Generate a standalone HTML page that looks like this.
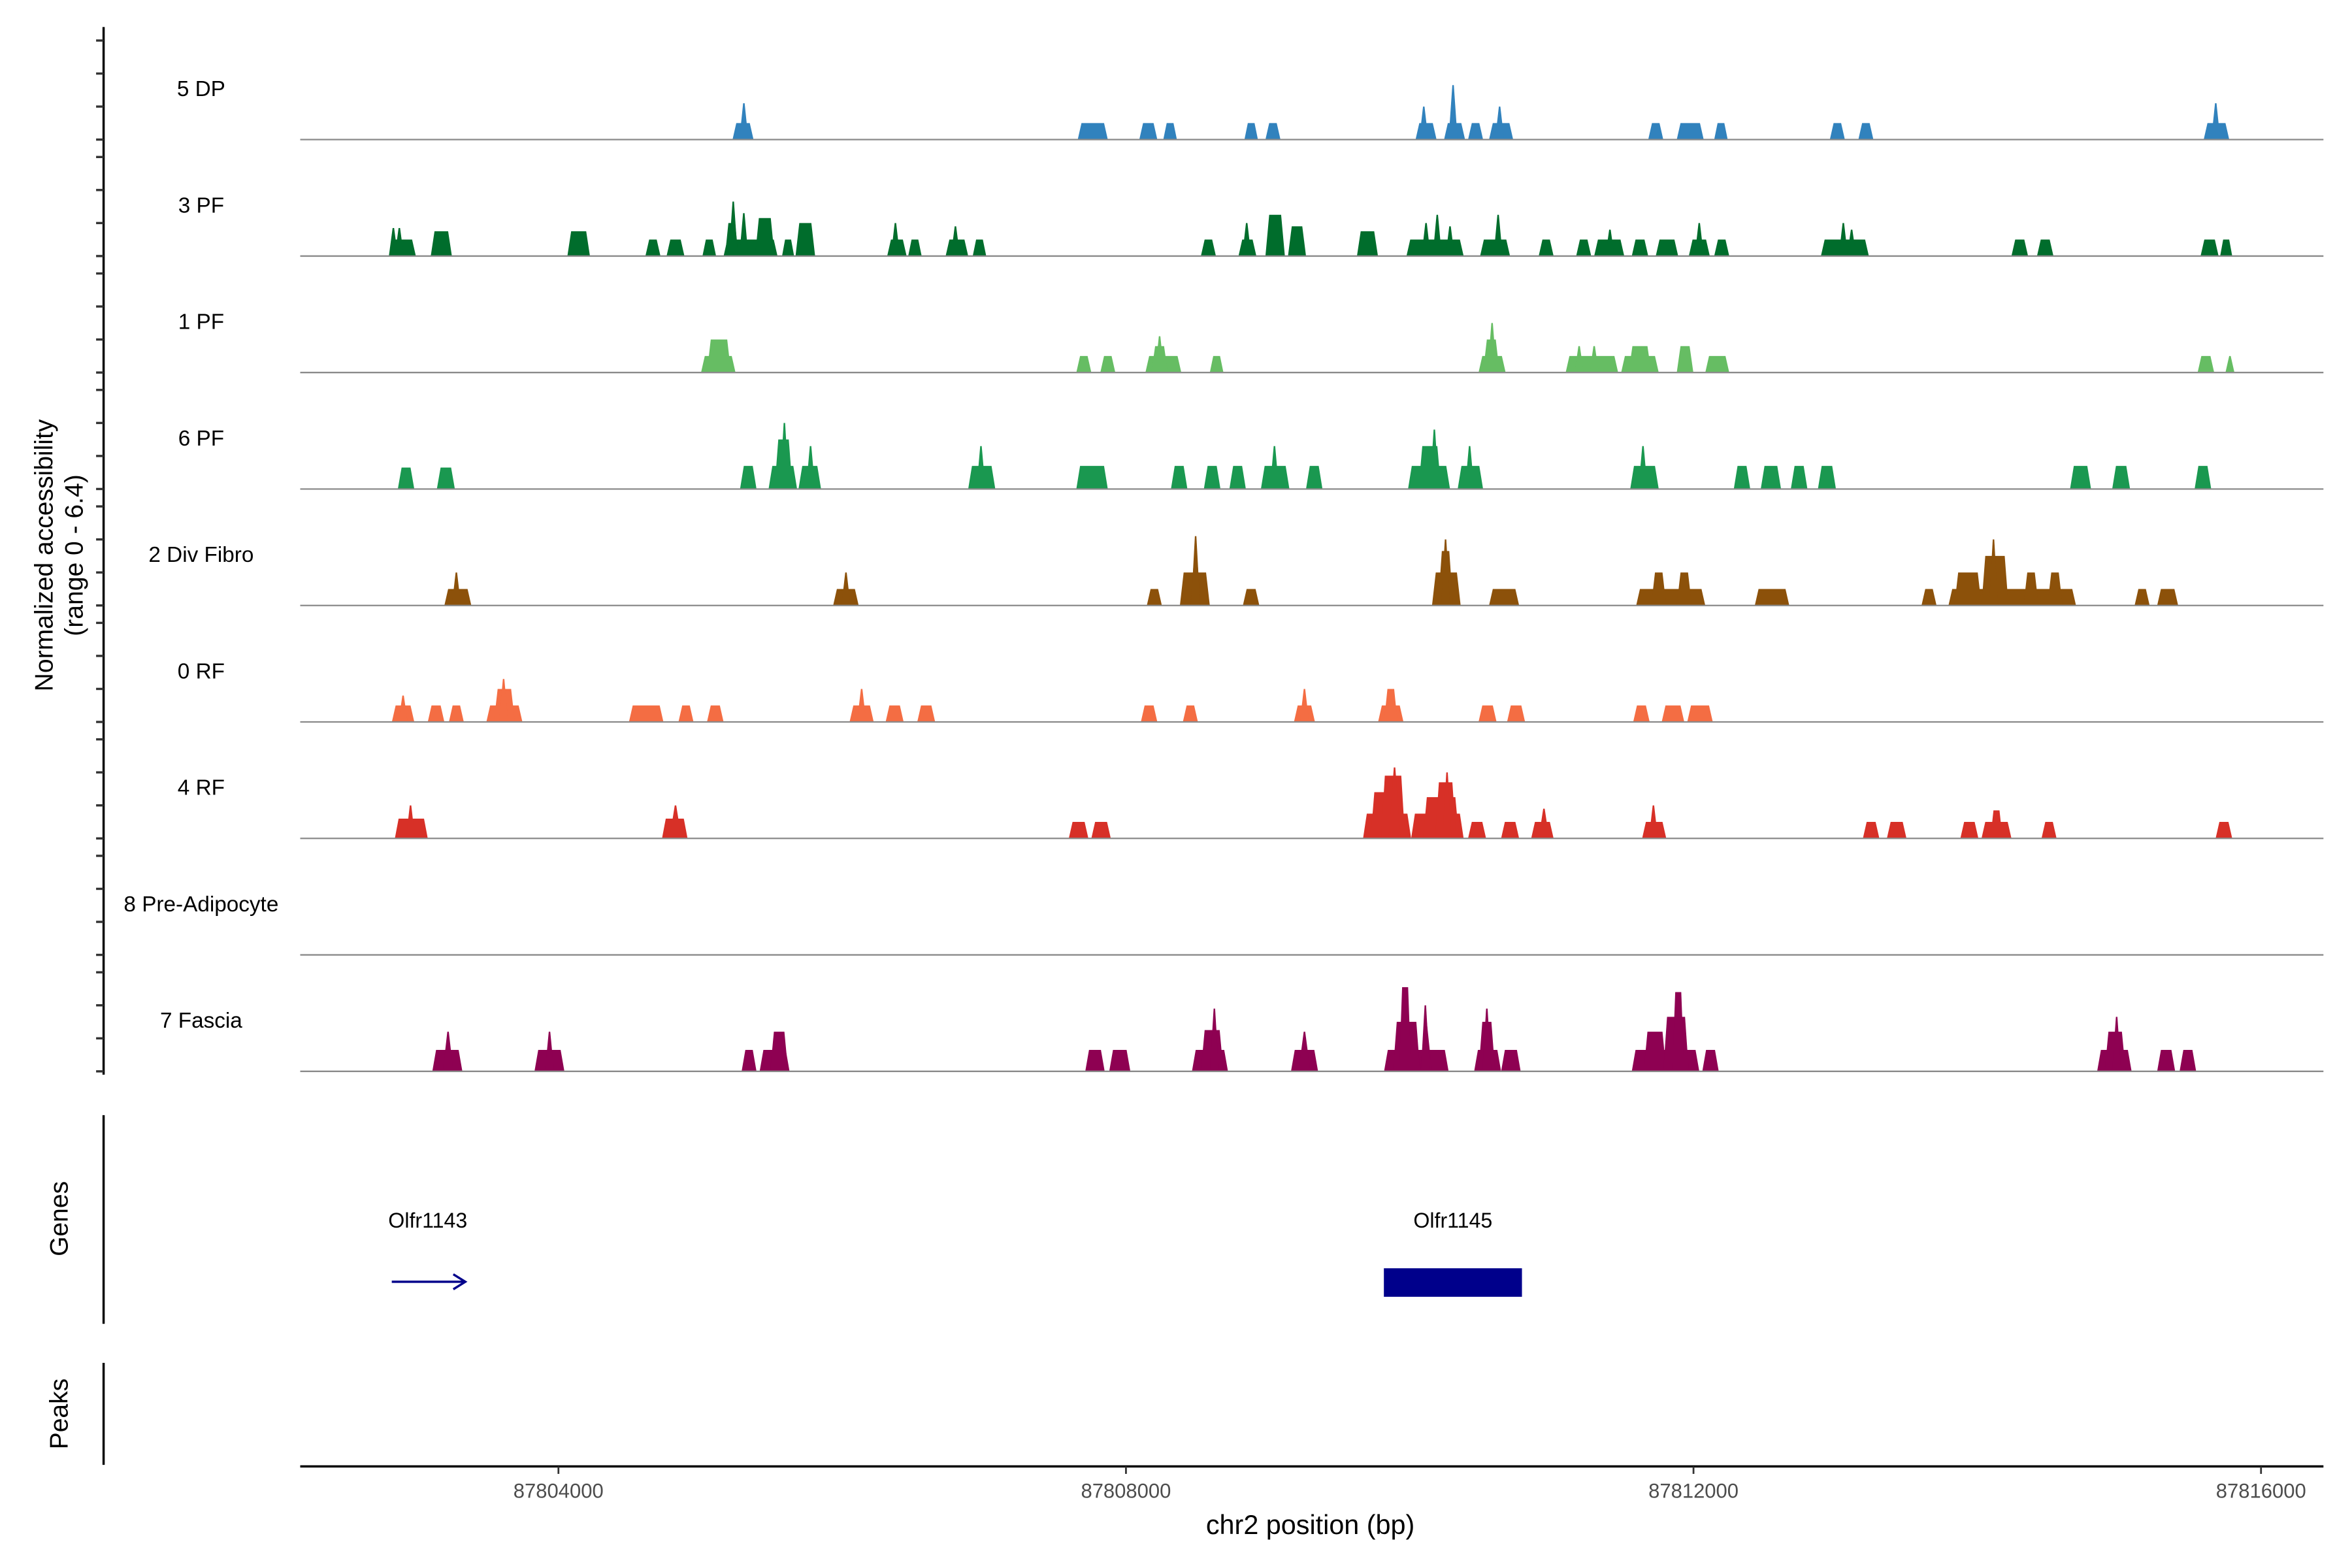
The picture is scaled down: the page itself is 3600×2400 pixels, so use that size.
<!DOCTYPE html>
<html><head><meta charset="utf-8">
<style>
html,body{margin:0;padding:0;background:#fff;}
svg{display:block;font-family:"Liberation Sans",Arial,sans-serif;}
</style></head>
<body>
<svg id="chart" width="3600" height="2400" viewBox="0 0 1567 1044.7" xmlns="http://www.w3.org/2000/svg">
<g id="tracks"></g>
<g id="yaxis"></g>
<text transform="translate(35,370) rotate(-90)" text-anchor="middle" font-size="17">Normalized accessibility</text>
<text transform="translate(55,370) rotate(-90)" text-anchor="middle" font-size="17">(range 0 - 6.4)</text>
<g>
<line x1="69" y1="743" x2="69" y2="882" stroke="#000" stroke-width="1.5"/>
<text transform="translate(45,812) rotate(-90)" text-anchor="middle" font-size="17">Genes</text>
<text x="285" y="818" text-anchor="middle" font-size="14">Olfr1143</text>
<line x1="261" y1="854" x2="309" y2="854" stroke="#00008b" stroke-width="1.5"/>
<path d="M302,849 L310,854 L302,859" fill="none" stroke="#00008b" stroke-width="1.5"/>
<text x="968" y="818" text-anchor="middle" font-size="14">Olfr1145</text>
<rect x="922" y="845" width="92" height="19" fill="#00008b"/>
</g>
<g>
<line x1="69" y1="908" x2="69" y2="976" stroke="#000" stroke-width="1.5"/>
<text transform="translate(45,942) rotate(-90)" text-anchor="middle" font-size="17">Peaks</text>
</g>
<g id="xaxis"></g>
<text x="873" y="1022" text-anchor="middle" font-size="18">chr2 position (bp)</text>
</svg>
<script>
const NS = "http://www.w3.org/2000/svg";
const trackNames = ["5 DP","3 PF","1 PF","6 PF","2 Div Fibro","0 RF","4 RF","8 Pre-Adipocyte","7 Fascia"];
const trackColors = ["#3182bd","#006d2c","#66bd63","#1a9850","#8c510a","#f46d43","#d73027","#f7f7f7","#8e0152"];
const xTicks = [87804000, 87808000, 87812000, 87816000];
const domain = [87802180, 87816440];
// peaks: [start bp, end bp, height (normalized)]
const peaks5DP = [[87805227,87805375,1],[87805291,87805323,2.2],[87807660,87807872,1],[87808094,87808221,1],[87808263,87808359,1],[87808835,87808930,1],[87808983,87809089,1],[87810041,87810189,1],[87810083,87810115,2],[87810242,87810390,1],[87810284,87810327,3.3],[87810411,87810517,1],[87810559,87810729,1],[87810612,87810655,2],[87811681,87811787,1],[87811882,87812072,1],[87812146,87812241,1],[87812961,87813067,1],[87813162,87813268,1],[87815596,87815776,1],[87815660,87815702,2.2]];
const peaks3PF = [[87802815,87802995,1],[87802826,87802847,1.7],[87802868,87802889,1.7],[87803100,87803249,1.5],[87804063,87804222,1.5],[87804613,87804719,1],[87804762,87804888,1],[87805015,87805111,1],[87805164,87805544,1],[87805174,87805269,2],[87805216,87805248,3.3],[87805291,87805322,2.6],[87805386,87805523,2.3],[87805576,87805661,1],[87805671,87805809,2],[87806317,87806454,1],[87806359,87806391,2],[87806465,87806560,1],[87806729,87806888,1],[87806782,87806814,1.8],[87806920,87807015,1],[87808528,87808634,1],[87808793,87808919,1],[87808835,87808867,2],[87808983,87809120,2.5],[87809142,87809269,1.8],[87809628,87809776,1.5],[87809977,87810380,1],[87810094,87810136,2],[87810178,87810210,2.5],[87810263,87810305,1.8],[87810496,87810707,1],[87810602,87810644,2.5],[87810909,87811014,1],[87811173,87811279,1],[87811300,87811512,1],[87811395,87811427,1.6],[87811565,87811681,1],[87811734,87811892,1],[87811967,87812115,1],[87812019,87812062,2],[87812146,87812252,1],[87812898,87813236,1],[87813035,87813077,2],[87813099,87813130,1.6],[87814241,87814358,1],[87814421,87814537,1],[87815574,87815701,1],[87815712,87815797,1]];
const peaks1PF = [[87805005,87805248,1],[87805047,87805216,2],[87807650,87807756,1],[87807819,87807925,1],[87808137,87808390,1],[87808179,87808295,1.6],[87808221,87808253,2.2],[87808591,87808687,1],[87810485,87810676,1],[87810517,87810633,2],[87810559,87810602,3],[87811099,87811469,1],[87811173,87811215,1.6],[87811279,87811321,1.6],[87811490,87811755,1],[87811543,87811702,1.6],[87811882,87811999,1.6],[87812083,87812252,1],[87815553,87815670,1],[87815765,87815797,1]];
const peaks6PF = [[87802868,87802984,1.3],[87803143,87803270,1.3],[87805280,87805396,1.4],[87805481,87805682,1.4],[87805523,87805650,3],[87805566,87805619,4],[87805692,87805851,1.4],[87805745,87805809,2.6],[87806888,87807079,1.4],[87806952,87807004,2.6],[87807650,87807872,1.4],[87808317,87808433,1.4],[87808549,87808666,1.4],[87808729,87808845,1.4],[87808951,87809152,1.4],[87809015,87809078,2.6],[87809269,87809385,1.4],[87809988,87810284,1.4],[87810062,87810221,2.6],[87810147,87810200,3.6],[87810338,87810517,1.4],[87810390,87810454,2.6],[87811554,87811755,1.4],[87811618,87811670,2.6],[87812284,87812400,1.4],[87812474,87812617,1.4],[87812686,87812803,1.4],[87812877,87813004,1.4],[87814654,87814802,1.4],[87814951,87815077,1.4],[87815532,87815649,1.4]];
const peaksDivFibro = [[87803196,87803386,1],[87803249,87803312,2],[87805936,87806116,1],[87806000,87806053,2],[87808147,87808253,1],[87808380,87808591,2],[87808454,87808528,3.5],[87808475,87808507,4.2],[87808824,87808940,1],[87810157,87810359,2],[87810200,87810305,3.3],[87810231,87810274,4],[87810559,87810771,1],[87811596,87812083,1],[87811702,87811808,2],[87811882,87811988,2],[87812432,87812675,1],[87813607,87813713,1],[87813797,87814696,1],[87813839,87814030,2],[87814030,87814220,3],[87814083,87814146,4],[87814326,87814432,2],[87814495,87814601,2],[87815109,87815215,1],[87815268,87815416,1]];
const peaks0RF = [[87802826,87802984,1],[87802879,87802931,1.6],[87803079,87803196,1],[87803228,87803333,1],[87803492,87803746,1],[87803545,87803693,2],[87803587,87803640,2.6],[87804497,87804740,1],[87804846,87804952,1],[87805047,87805164,1],[87806052,87806222,1],[87806105,87806169,2],[87806306,87806433,1],[87806529,87806655,1],[87808105,87808221,1],[87808401,87808507,1],[87809184,87809332,1],[87809226,87809290,2],[87809777,87809956,1],[87809819,87809914,2],[87810485,87810612,1],[87810686,87810813,1],[87811575,87811691,1],[87811776,87811935,1],[87811956,87812136,1]];
const peaks4RF = [[87802847,87803079,1.2],[87802931,87802984,2],[87804730,87804910,1.2],[87804783,87804867,2],[87807597,87807735,1],[87807756,87807893,1],[87809671,87810010,1.5],[87809724,87809851,2.8],[87809798,87809967,3.8],[87809851,87809935,4.3],[87810010,87810380,1.5],[87810094,87810348,2.5],[87810179,87810327,3.4],[87810242,87810284,4],[87810411,87810538,1],[87810644,87810771,1],[87810856,87811014,1],[87810909,87810983,1.8],[87811638,87811808,1],[87811691,87811744,2],[87813194,87813310,1],[87813363,87813501,1],[87813881,87814008,1],[87814030,87814241,1],[87814093,87814178,1.7],[87814453,87814559,1],[87815680,87815797,1]];
const peaksPreAdipocyte = [];
const peaksFascia = [[87803111,87803323,1.3],[87803185,87803259,2.4],[87803831,87804042,1.3],[87803905,87803969,2.4],[87805291,87805396,1.3],[87805418,87805629,1.3],[87805492,87805619,2.4],[87807713,87807850,1.3],[87807882,87808031,1.3],[87808465,87808719,1.3],[87808528,87808687,2.5],[87808591,87808655,3.8],[87809163,87809354,1.3],[87809216,87809300,2.4],[87809819,87810274,1.3],[87809882,87810073,3],[87809925,87810010,5.1],[87810073,87810157,3],[87810094,87810126,4],[87810454,87810644,1.3],[87810485,87810602,3],[87810517,87810570,3.8],[87810644,87810782,1.3],[87811565,87812041,1.3],[87811649,87811808,2.4],[87811787,87811967,3.3],[87811850,87811935,4.8],[87812062,87812178,1.3],[87814845,87815088,1.3],[87814898,87815046,2.4],[87814951,87815014,3.3],[87815268,87815395,1.3],[87815426,87815543,1.3]];
const allPeaks = [peaks5DP,peaks3PF,peaks1PF,peaks6PF,peaksDivFibro,peaks0RF,peaks4RF,peaksPreAdipocyte,peaksFascia];

const X0 = 200, X1 = 1548;
function xScale(bp){ return X0 + (bp - domain[0]) / (domain[1] - domain[0]) * (X1 - X0); }
const firstBase = 93, trackStep = 77.6, unitPx = 11;
function baseY(i){ return firstBase + i * trackStep; }
function yScale(i, v){ return baseY(i) - v * unitPx; }

const tracksG = document.getElementById('tracks');
const yG = document.getElementById('yaxis');
function mk(tag, attrs, parent){ const e = document.createElementNS(NS, tag); for (const k in attrs) e.setAttribute(k, attrs[k]); parent.appendChild(e); return e; }

const axisLine = mk('line', {x1:69, y1:18, x2:69, y2:716, stroke:'#000', 'stroke-width':1.5}, yG);



trackNames.forEach((name, i) => {
  const g = mk('g', {}, tracksG);
  
  
  const lbl = mk('text', {x:134, y:baseY(i) - 29, 'text-anchor':'middle', 'font-size':14.5, fill:'#000'}, g);
  lbl.textContent = name;
  
  
  allPeaks[i].forEach(p => {
    let xa = xScale(p[0]), xb = xScale(p[1]);
    if (xb - xa < 6) { const c = (xa + xb) / 2; xa = c - 3; xb = c + 3; }
    const w = xb - xa;
    const s = w < 8 ? w / 2 - 0.5 : Math.min(2.5, w / 4);
    const yb = baseY(i), yt = yScale(i, p[2]);
    const poly = mk('polygon', {points: `${xa},${yb} ${xa+s},${yt} ${xb-s},${yt} ${xb},${yb}`, fill: trackColors[i]}, g);
    
    
  });
  const bl = mk('line', {x1:X0, x2:X1, y1:baseY(i), y2:baseY(i), stroke:'#8a8a8a', 'stroke-width':1}, g);
  
  
  for (let k = 0; k < 4; k++) {
    const ty = baseY(i) - k * 22;
    const t = mk('line', {x1:64, x2:69, y1:ty, y2:ty, stroke:'#333', 'stroke-width':1.5}, yG);
    
    
  }
});

const xG = document.getElementById('xaxis');
const xl = mk('line', {x1:X0, x2:X1, y1:977, y2:977, stroke:'#000', 'stroke-width':1.5}, xG);


xTicks.forEach(v => {
  const x = xScale(v);
  const t = mk('line', {x1:x, x2:x, y1:977, y2:982, stroke:'#333', 'stroke-width':1.2}, xG);
  
  
  const l = mk('text', {x:x, y:998, 'text-anchor':'middle', 'font-size':13.5, fill:'#4d4d4d'}, xG);
  l.textContent = String(v);
  
  
});
</script>
</body></html>
